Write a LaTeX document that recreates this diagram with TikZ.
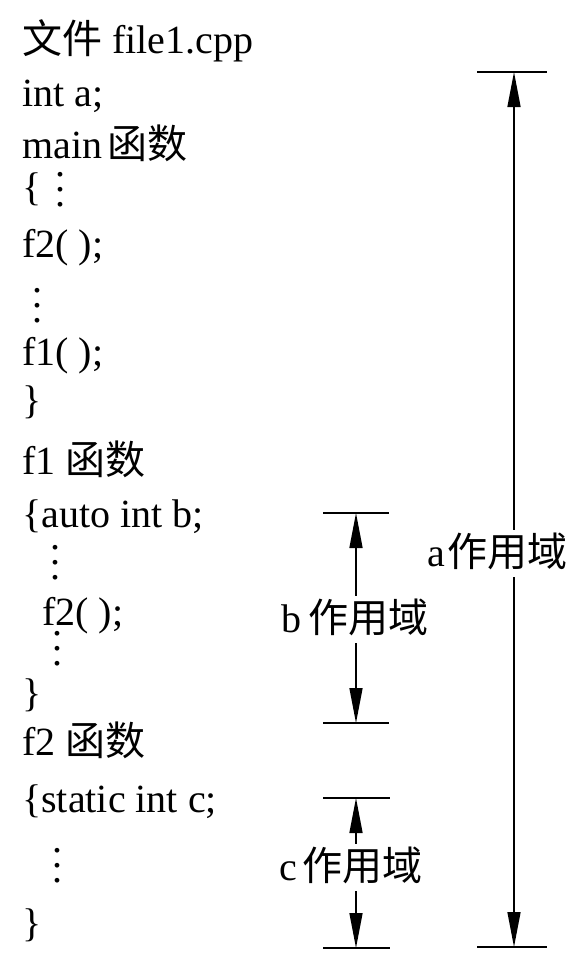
\documentclass[tikz,border=0pt]{standalone}
\usepackage{fontspec}
\setmainfont{Liberation Serif}
\newfontfamily\cjk{Noto Sans CJK SC}
\usetikzlibrary{arrows.meta}
\newcommand{\vdd}{\vbox{\baselineskip=15pt\lineskiplimit=-20pt\lineskip=0pt\hbox{.}\hbox{.}\hbox{.}}}
\tikzset{
  txt/.style={anchor=base west, inner sep=0pt, font=\fontsize{40}{48}\selectfont},
  lab/.style={anchor=base west, inner sep=0pt, font=\fontsize{40}{48}\selectfont, text height=36pt, text depth=11pt},
  bar/.style={line width=2.5pt},
  arr/.style={line width=1.5pt, -{Triangle[length=35pt,width=13pt]}},
}
\begin{document}
\begin{tikzpicture}[x=1pt,y=1pt]
\useasboundingbox (0,0) rectangle (573,-975);
% code lines
\node[txt] (t1) at (22,-53) {{\cjk 文件} file1.cpp};
\node[txt] (t2) at (22,-106) {int a;};
\node[txt] (t3) at (22,-158) {main\kern5pt{\cjk 函数}};
\node[txt] (t4) at (22,-200) {\{};
\node[txt] (d4) at (55,-206) {\vdd};
\node[txt] (t5) at (22,-257) {f2( );};
\node[txt] (d6) at (32,-322) {\vdd};
\node[txt] (t7) at (22,-365) {f1( );};
\node[txt] (t8) at (22,-413) {\}};
\node[txt] (t9) at (22,-474) {f1 {\cjk 函数}};
\node[txt] (t10) at (22,-527) {\{auto int b;};
\node[txt] (d11) at (50,-579) {\vdd};
\node[txt] (t12) at (42,-625) {f2( );};
\node[txt] (d13) at (52,-665) {\vdd};
\node[txt] (t14) at (22,-706) {\}};
\node[txt] (t15) at (22,-755) {f2 {\cjk 函数}};
\node[txt] (t16) at (22,-812) {\{static int c;};
\node[txt] (d17) at (52,-882) {\vdd};
\node[txt] (t18) at (22,-936) {\}};
% scope labels
\node[lab] (alab) at (427,-566) {a\kern3pt{\cjk 作用域}};
\node[lab] (blab) at (281,-632) {b\kern7pt{\cjk 作用域}};
\node[lab] (clab) at (279,-880) {c\kern6pt{\cjk 作用域}};
% end points
\coordinate (at) at (514,-72);
\coordinate (ab) at (514,-947);
\coordinate (bt) at (356,-513);
\coordinate (bb) at (356,-723);
\coordinate (ct) at (356,-798);
\coordinate (cb) at (356,-948);
% bars
\draw[bar] ([xshift=-37pt]at) -- ([xshift=33pt]at);
\draw[bar] ([xshift=-37pt]ab) -- ([xshift=33pt]ab);
\draw[bar] ([xshift=-33pt]bt) -- ([xshift=33pt]bt);
\draw[bar] ([xshift=-33pt]bb) -- ([xshift=33pt]bb);
\draw[bar] ([xshift=-33pt]ct) -- ([xshift=34pt]ct);
\draw[bar] ([xshift=-33pt]cb) -- ([xshift=34pt]cb);
% arrows
\draw[arr] (alab.north -| at) -- (at);
\draw[arr] (alab.south -| ab) -- (ab);
\draw[arr] (blab.north -| bt) -- (bt);
\draw[arr] (blab.south -| bb) -- (bb);
\draw[arr] (clab.north -| ct) -- (ct);
\draw[arr] (clab.south -| cb) -- (cb);
\end{tikzpicture}
\end{document}
